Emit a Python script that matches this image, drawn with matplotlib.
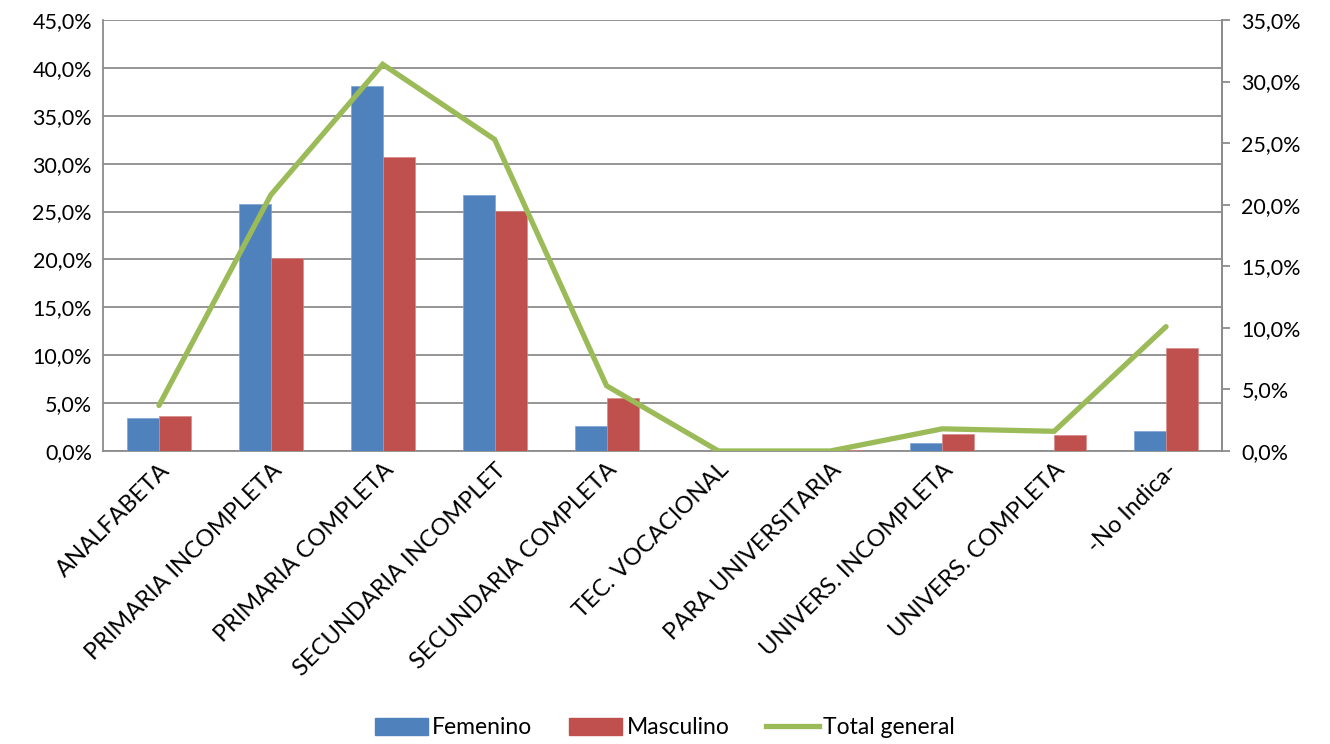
import matplotlib
matplotlib.use("Agg")
import matplotlib.pyplot as plt
import numpy as np
from matplotlib.ticker import FuncFormatter
from matplotlib.patches import Patch
from matplotlib.lines import Line2D

categories = ["ANALFABETA", "PRIMARIA INCOMPLETA", "PRIMARIA COMPLETA",
              "SECUNDARIA INCOMPLET", "SECUNDARIA COMPLETA", "TEC. VOCACIONAL",
              "PARA UNIVERSITARIA", "UNIVERS. INCOMPLETA", "UNIVERS. COMPLETA",
              "-No Indica-"]
femenino = [3.4, 25.8, 38.1, 26.7, 2.6, 0.0, 0.0, 0.8, 0.0, 2.1]
masculino = [3.7, 20.2, 30.7, 25.1, 5.5, 0.0, 0.1, 1.8, 1.7, 10.8]
total = [3.7, 20.8, 31.4, 25.3, 5.3, 0.0, 0.0, 1.8, 1.6, 10.1]
series_names = ["Femenino", "Masculino", "Total general"]

plt.rcParams['font.family'] = ['Lato', 'DejaVu Sans']
blue, red, green = "#4F81BD", "#C0504D", "#9BBB59"

fig = plt.figure(figsize=(13.3, 7.44), dpi=100)
ax = fig.add_axes([103/1330, 1-451/744, (1222-103)/1330, (451-20)/744])
x = np.arange(len(categories))
w = 0.286
ax.bar(x - w/2, femenino, w, color=blue, zorder=3, edgecolor="#7FA3D0", linewidth=0.5)
ax.bar(x + w/2, masculino, w, color=red, zorder=3, edgecolor="#D58A88", linewidth=0.5)
ax.set_xlim(-0.5, len(categories) - 0.5)
ax.set_ylim(0, 45)
ax.set_yticks(np.arange(0, 45.1, 5))
ax.yaxis.set_major_formatter(FuncFormatter(lambda v, p: f"{v:.1f}%".replace(".", ",")))
ax.grid(axis="y", color="#8C8C8C", linewidth=1.3, zorder=0)
ax.set_axisbelow(True)
ax.spines["top"].set_visible(False)
for s in ["left", "bottom", "right"]:
    ax.spines[s].set_color("#8C8C8C")
    ax.spines[s].set_linewidth(1.3)
ax.tick_params(axis="y", length=0, labelsize=15.5, pad=8)
ax.tick_params(axis="x", length=0, labelsize=17, pad=6)
ax.set_xticks(x)
ax.set_xticklabels(categories, rotation=45, ha="right", rotation_mode="anchor")

ax2 = ax.twinx()
ax2.plot(x, total, color=green, linewidth=3.8, zorder=5, solid_capstyle="round", solid_joinstyle="miter")
ax2.set_ylim(0, 35)
ax2.set_yticks(np.arange(0, 35.1, 5))
ax2.yaxis.set_major_formatter(FuncFormatter(lambda v, p: f"{v:.1f}%".replace(".", ",")))
ax2.tick_params(axis="y", length=6, color="#8C8C8C", width=1.3, labelsize=15.5, pad=8)
for s in ["top", "left", "bottom"]:
    ax2.spines[s].set_visible(False)
ax2.spines["right"].set_color("#8C8C8C")
ax2.spines["right"].set_linewidth(1.3)

handles = [Patch(color=blue), Patch(color=red), Line2D([0], [0], color=green, linewidth=3.8)]
fig.legend(handles, series_names, loc="center", bbox_to_anchor=(0.5, 1-728/744), ncol=3,
           frameon=False, fontsize=16.5, handlelength=2.3, handleheight=0.75, columnspacing=1.6,
           handletextpad=0.2)

fig.savefig("out.png", dpi=100)
